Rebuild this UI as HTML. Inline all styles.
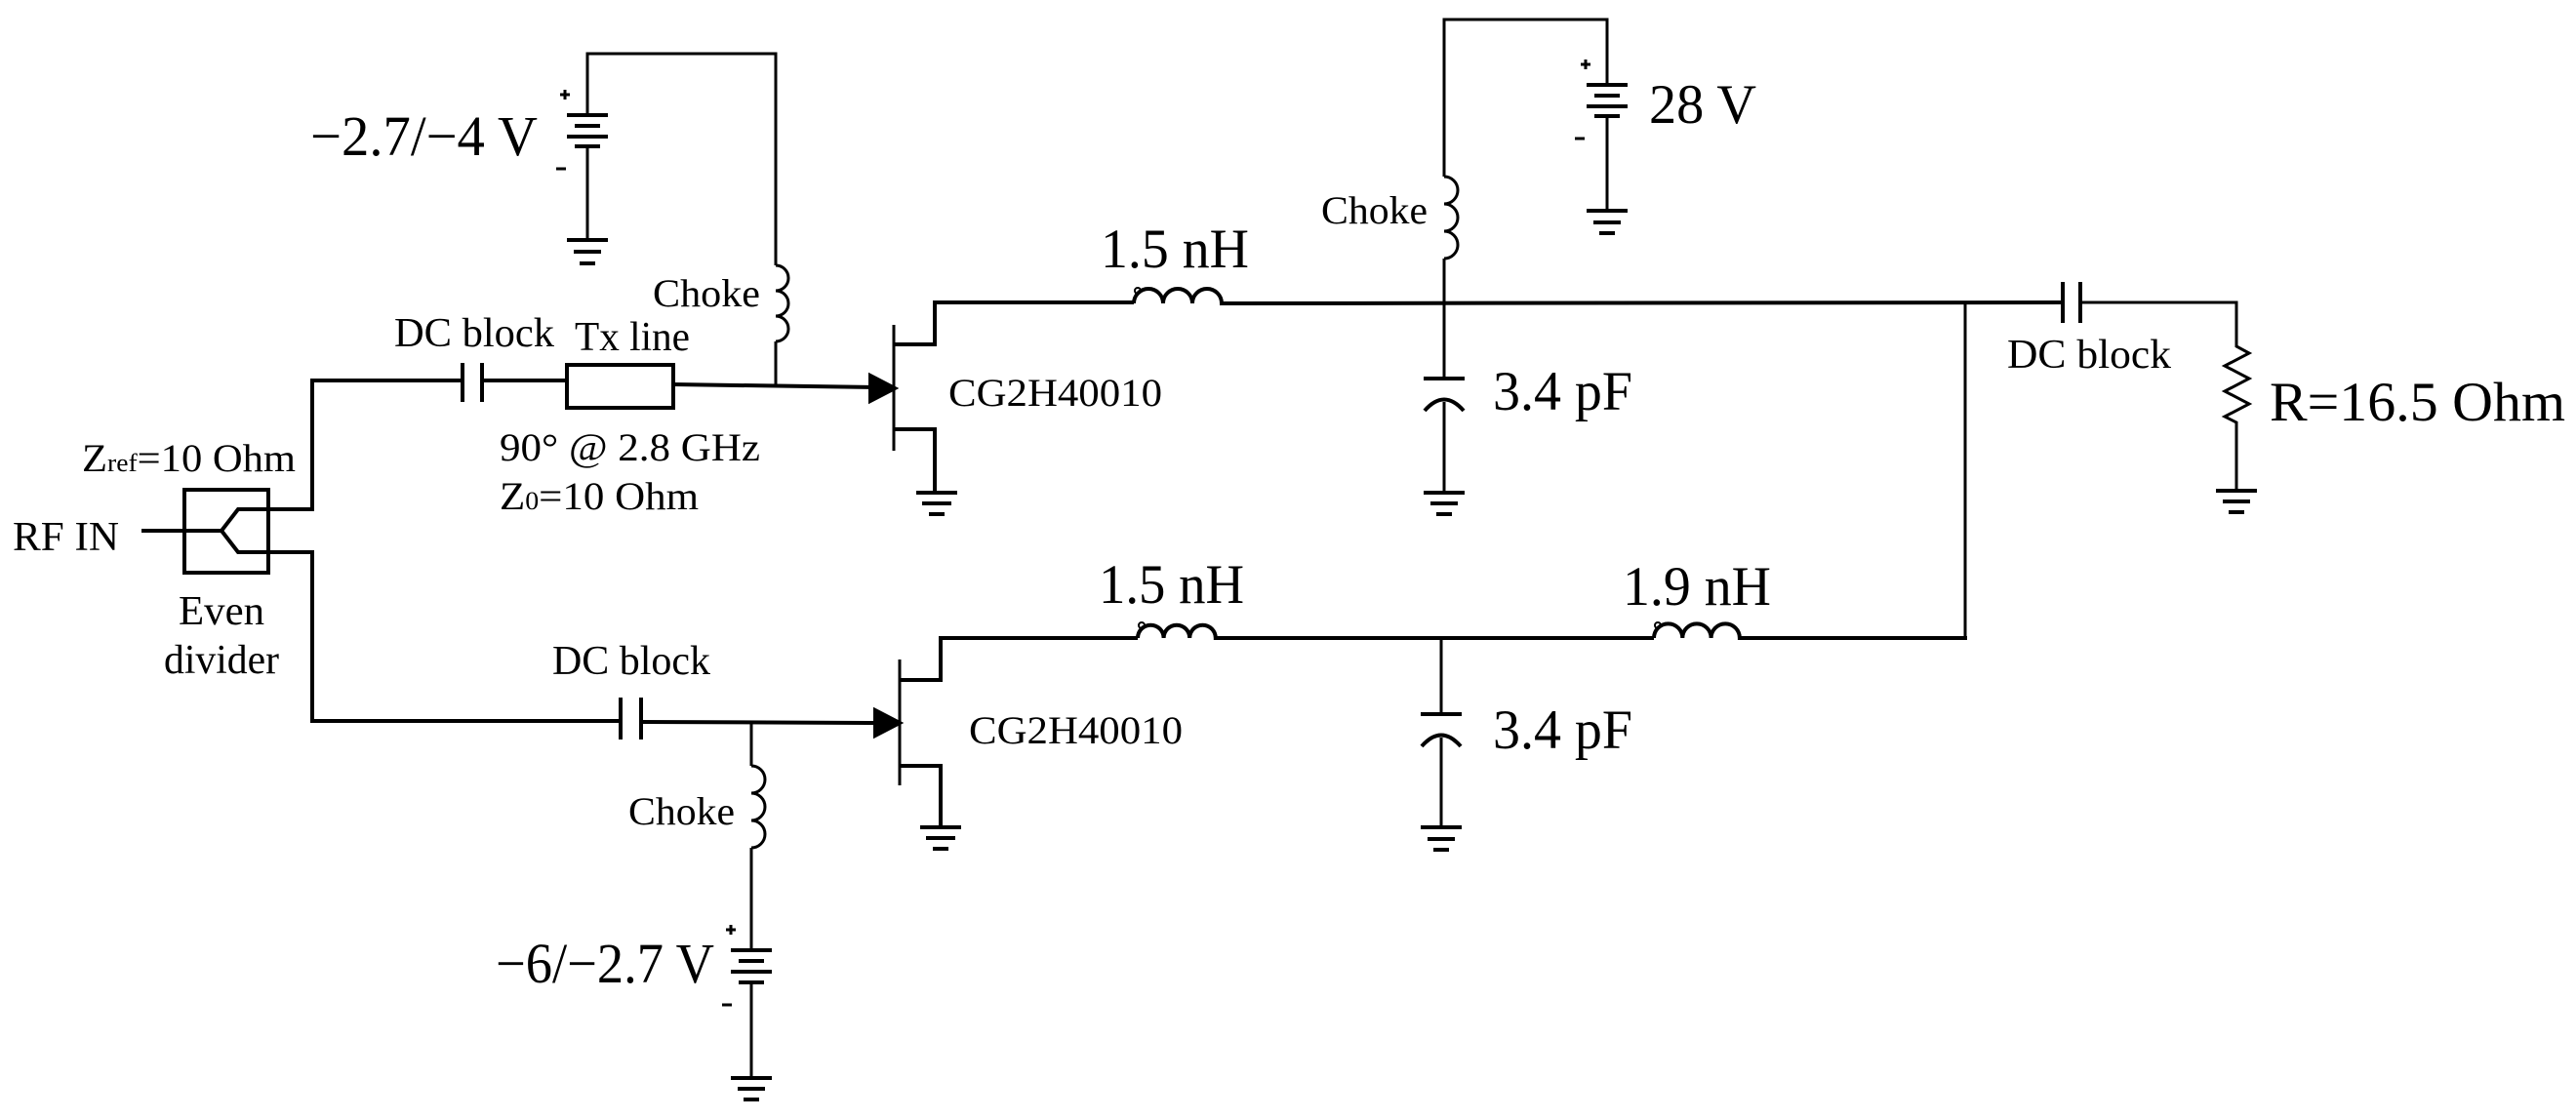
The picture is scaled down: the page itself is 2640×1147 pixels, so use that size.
<!DOCTYPE html>
<html><head><meta charset="utf-8"><style>
html,body{margin:0;padding:0;background:#fff}
svg{display:block}
text{font-family:"Liberation Serif",serif;fill:#000}
</style></head><body>
<svg width="2640" height="1147" viewBox="0 0 2640 1147" xmlns="http://www.w3.org/2000/svg">
<g fill="none" stroke="#000" stroke-width="4" stroke-linecap="butt">
<!-- divider -->
<rect x="189" y="502" width="86" height="85"/>
<path d="M145 544 L227 544 L244 522 L320 522 L320 390 L474 390"/>
<path d="M227 544 L244 566 L320 566 L320 739 L636 739"/>
<!-- top DC block -->
<path d="M474 372 V412 M494 372 V412"/>
<path d="M494 390 L581 390"/>
<rect x="581" y="374" width="109" height="44"/>
<path d="M690 394 L895 397"/>
<polygon points="892,385 917,398 892,411" fill="#000"/>
<!-- top bias -->
<path d="M795 395 V350 M795 272 V55 H602 V118" stroke-width="3"/>
<path d="M795 350 a13 13 0 0 0 0 -26 a13 13 0 0 0 0 -26 a13 13 0 0 0 0 -26" stroke-width="3"/>
<path d="M581 118 H623 M589 129 H615 M581 140 H623 M589 150 H615" stroke-width="4"/>
<path d="M602 150 V246" stroke-width="3"/>
<path d="M581 246 H623 M588 258 H616 M594 270 H610"/>
<path d="M574 97 H584 M579 92 V102 M570 173 H580" stroke-width="3"/>
<!-- top transistor -->
<path d="M916 333 V462" stroke-width="3"/>
<path d="M916 353 H958 V310 H1162 M916 440 H958 V505"/>
<path d="M939 505 H981 M945 516 H975 M952 527 H968"/>
<!-- top inductor 1.5nH -->
<circle cx="1166" cy="298" r="3" stroke-width="2"/>
<path d="M1162 311 a15 15 0 0 1 30 0 a15 15 0 0 1 30 0 a15 15 0 0 1 30 0 L2114 310" stroke-width="4"/>
<!-- 28V choke -->
<path d="M1480 310 V265 M1480 181 V20 H1647 V87" stroke-width="3"/>
<path d="M1480 265 a14 14 0 0 0 0 -28 a14 14 0 0 0 0 -28 a14 14 0 0 0 0 -28" stroke-width="3"/>
<path d="M1626 87 H1668 M1634 98 H1660 M1626 109 H1668 M1634 119 H1660"/>
<path d="M1647 119 V216" stroke-width="3"/>
<path d="M1626 216 H1668 M1633 228 H1661 M1639 239 H1655"/>
<path d="M1620 66 H1630 M1625 61 V71 M1614 142 H1624" stroke-width="3"/>
<!-- top 3.4pF -->
<path d="M1480 310 V388 M1480 412 V505" stroke-width="3"/>
<path d="M1459 388 H1501"/>
<path d="M1460 421 Q1480 398 1500 421"/>
<path d="M1459 505 H1501 M1466 516 H1494 M1472 527 H1488"/>
<!-- output -->
<path d="M2014 310 V654" stroke-width="3"/>
<path d="M2114 289 V331 M2132 289 V331"/>
<path d="M2132 310 H2292 V355 L2305 362 L2280 375 L2305 388 L2280 401 L2305 414 L2280 427 L2292 433 V503" stroke-width="3"/>
<path d="M2271 503 H2313 M2278 514 H2306 M2284 525 H2300"/>
<!-- lower DC block -->
<path d="M636 715 V758 M657 715 V758"/>
<path d="M657 740 L900 741"/>
<polygon points="897,728 922,741 897,754" fill="#000"/>
<!-- lower choke & battery -->
<path d="M770 741 V785 M770 869 V974" stroke-width="3"/>
<path d="M770 785 a14 14 0 0 1 0 28 a14 14 0 0 1 0 28 a14 14 0 0 1 0 28" stroke-width="3"/>
<path d="M749 974 H791 M757 985 H783 M749 996 H791 M757 1007 H783"/>
<path d="M770 1007 V1105" stroke-width="3"/>
<path d="M749 1105 H791 M756 1116 H784 M762 1127 H778"/>
<path d="M744 953 H754 M749 948 V958 M740 1030 H750" stroke-width="3"/>
<!-- lower transistor -->
<path d="M922 676 V805" stroke-width="3"/>
<path d="M922 697 H964 V654 H1166 M922 785 H964 V848"/>
<path d="M943 848 H985 M949 859 H979 M956 870 H972"/>
<!-- lower inductors -->
<circle cx="1170" cy="641" r="3" stroke-width="2"/>
<path d="M1166 654 a13.3 13.3 0 0 1 26.6 0 a13.3 13.3 0 0 1 26.6 0 a13.3 13.3 0 0 1 26.6 0 L1695 654"/>
<circle cx="1699" cy="641" r="3" stroke-width="2"/>
<path d="M1695 654 a14.6 14.6 0 0 1 29.3 0 a14.6 14.6 0 0 1 29.3 0 a14.6 14.6 0 0 1 29.3 0 L2016 654"/>
<!-- lower 3.4pF -->
<path d="M1477 654 V732 M1477 756 V848" stroke-width="3"/>
<path d="M1456 732 H1498"/>
<path d="M1457 765 Q1477 742 1497 765"/>
<path d="M1456 848 H1498 M1463 860 H1491 M1469 871 H1485"/>
</g>
<g>
<text x="318" y="159" font-size="58" textLength="233" lengthAdjust="spacingAndGlyphs">−2.7/−4 V</text>
<text x="669" y="314" font-size="40" textLength="110" lengthAdjust="spacingAndGlyphs">Choke</text>
<text x="404" y="355" font-size="42" textLength="164" lengthAdjust="spacingAndGlyphs">DC block</text>
<text x="589" y="359" font-size="42" textLength="118" lengthAdjust="spacingAndGlyphs">Tx line</text>
<text x="512" y="472" font-size="40" textLength="267" lengthAdjust="spacingAndGlyphs">90° @ 2.8 GHz</text>
<text x="512" y="522" font-size="40" textLength="204" lengthAdjust="spacingAndGlyphs">Z<tspan font-size="26">0</tspan>=10 Ohm</text>
<text x="84" y="483" font-size="40" textLength="219" lengthAdjust="spacingAndGlyphs">Z<tspan font-size="26">ref</tspan>=10 Ohm</text>
<text x="13" y="564" font-size="42" textLength="109" lengthAdjust="spacingAndGlyphs">RF IN</text>
<text x="183" y="640" font-size="42" textLength="88" lengthAdjust="spacingAndGlyphs">Even</text>
<text x="168" y="690" font-size="42" textLength="118" lengthAdjust="spacingAndGlyphs">divider</text>
<text x="972" y="416" font-size="40" textLength="219" lengthAdjust="spacingAndGlyphs">CG2H40010</text>
<text x="1128" y="274" font-size="57" textLength="152" lengthAdjust="spacingAndGlyphs">1.5 nH</text>
<text x="1354" y="229" font-size="40" textLength="109" lengthAdjust="spacingAndGlyphs">Choke</text>
<text x="1690" y="126" font-size="57" textLength="110" lengthAdjust="spacingAndGlyphs">28 V</text>
<text x="1530" y="420" font-size="57" textLength="143" lengthAdjust="spacingAndGlyphs">3.4 pF</text>
<text x="2057" y="377" font-size="42" textLength="168" lengthAdjust="spacingAndGlyphs">DC block</text>
<text x="2326" y="431" font-size="57" textLength="303" lengthAdjust="spacingAndGlyphs">R=16.5 Ohm</text>
<text x="566" y="691" font-size="42" textLength="162" lengthAdjust="spacingAndGlyphs">DC block</text>
<text x="644" y="845" font-size="40" textLength="109" lengthAdjust="spacingAndGlyphs">Choke</text>
<text x="508" y="1007" font-size="58" textLength="224" lengthAdjust="spacingAndGlyphs">−6/−2.7 V</text>
<text x="993" y="762" font-size="40" textLength="219" lengthAdjust="spacingAndGlyphs">CG2H40010</text>
<text x="1126" y="618" font-size="57" textLength="149" lengthAdjust="spacingAndGlyphs">1.5 nH</text>
<text x="1663" y="620" font-size="57" textLength="152" lengthAdjust="spacingAndGlyphs">1.9 nH</text>
<text x="1530" y="767" font-size="57" textLength="143" lengthAdjust="spacingAndGlyphs">3.4 pF</text>
</g>
</svg>
</body></html>
